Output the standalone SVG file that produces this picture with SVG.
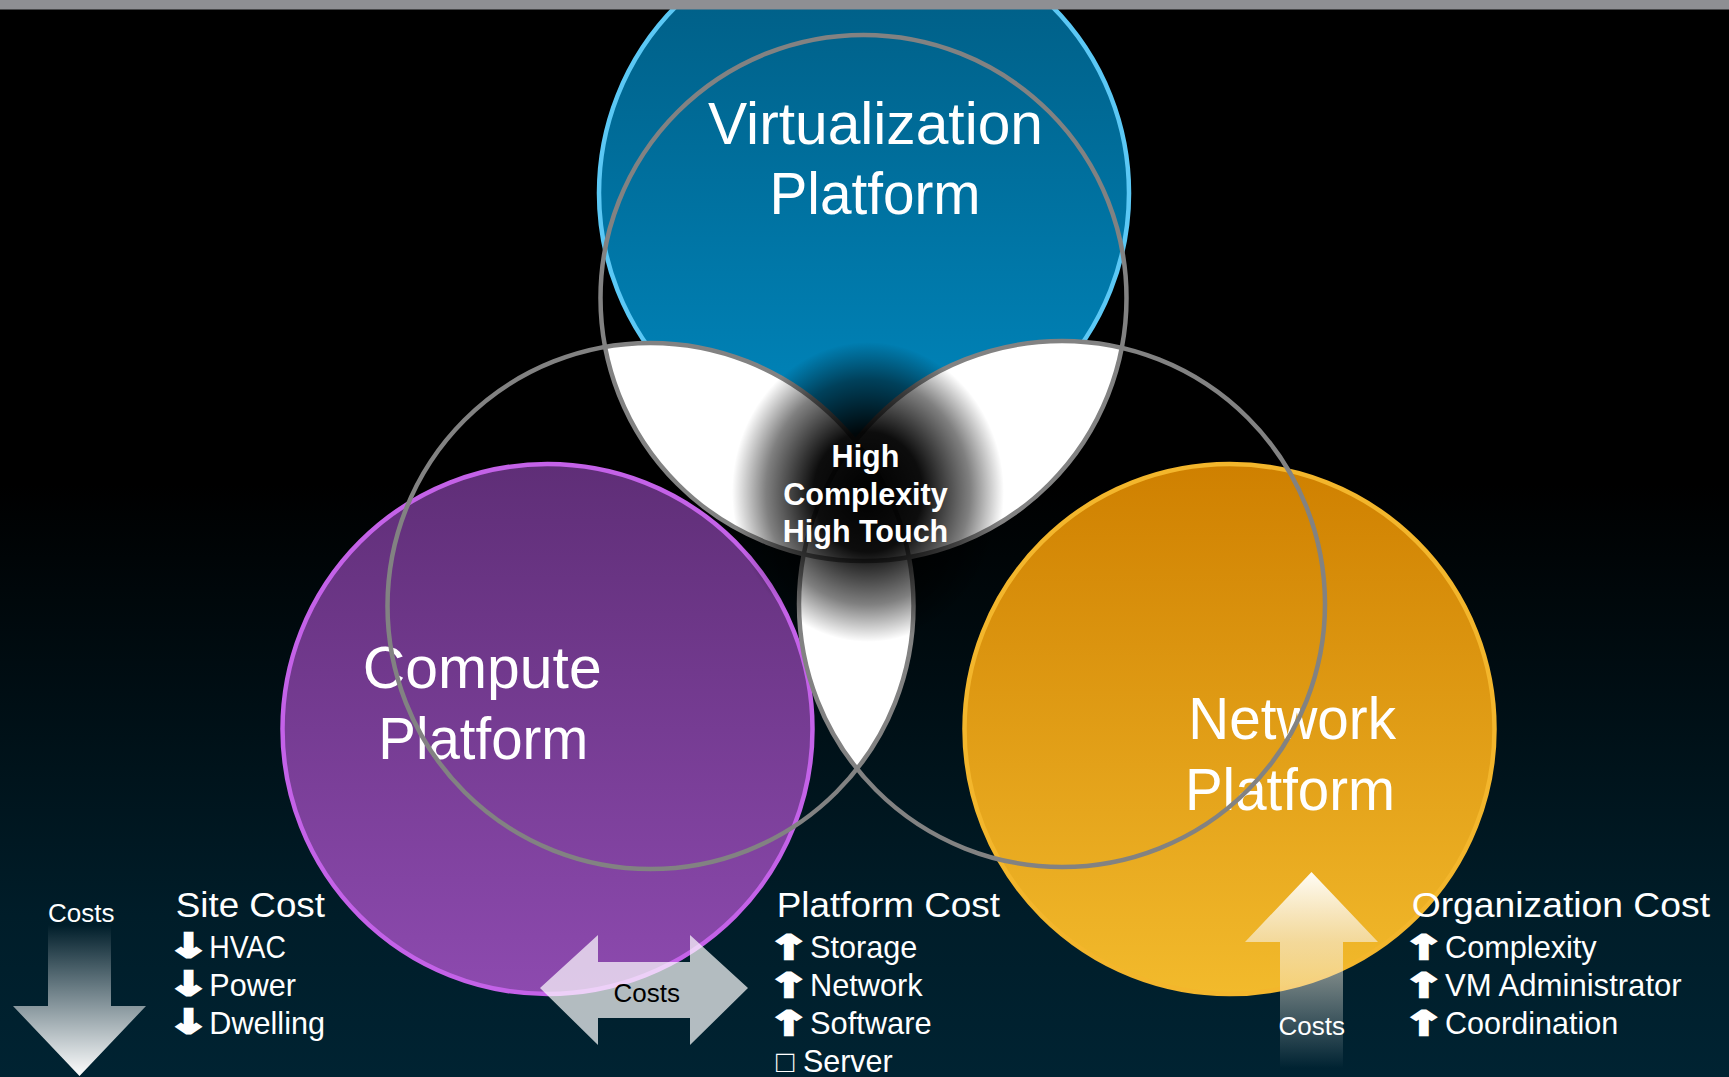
<svg xmlns="http://www.w3.org/2000/svg" width="1729" height="1077" viewBox="0 0 1729 1077">
  <defs>
    <linearGradient id="bg" x1="0" y1="0" x2="0" y2="1077" gradientUnits="userSpaceOnUse">
      <stop offset="0" stop-color="#000000"/>
      <stop offset="0.45" stop-color="#000000"/>
      <stop offset="0.85" stop-color="#001d29"/>
      <stop offset="1" stop-color="#002332"/>
    </linearGradient>
    <linearGradient id="gBlue" x1="0" y1="0" x2="0" y2="1">
      <stop offset="0" stop-color="#005a80"/>
      <stop offset="1" stop-color="#0088bf"/>
    </linearGradient>
    <linearGradient id="gPurple" x1="0" y1="0" x2="0" y2="1">
      <stop offset="0" stop-color="#5f2e77"/>
      <stop offset="1" stop-color="#8d4aaf"/>
    </linearGradient>
    <linearGradient id="gOrange" x1="0" y1="0" x2="0" y2="1">
      <stop offset="0" stop-color="#cf8000"/>
      <stop offset="1" stop-color="#f2ba2c"/>
    </linearGradient>
    <radialGradient id="gCenter" cx="0.5" cy="0.5" r="0.5">
      <stop offset="0" stop-color="#000" stop-opacity="1"/>
      <stop offset="0.4" stop-color="#000" stop-opacity="0.95"/>
      <stop offset="0.75" stop-color="#000" stop-opacity="0.5"/>
      <stop offset="1" stop-color="#000" stop-opacity="0"/>
    </radialGradient>
    <linearGradient id="gDown" x1="0" y1="925" x2="0" y2="1077" gradientUnits="userSpaceOnUse">
      <stop offset="0" stop-color="#ffffff" stop-opacity="0"/>
      <stop offset="1" stop-color="#ffffff" stop-opacity="1"/>
    </linearGradient>
    <linearGradient id="gUp" x1="0" y1="872" x2="0" y2="1068" gradientUnits="userSpaceOnUse">
      <stop offset="0" stop-color="#fffdf6" stop-opacity="1"/>
      <stop offset="0.36" stop-color="#f6ecd6" stop-opacity="0.65"/>
      <stop offset="1" stop-color="#ffffff" stop-opacity="0"/>
    </linearGradient>
    <clipPath id="cT"><circle cx="863.5" cy="298" r="263"/></clipPath>
    <clipPath id="cL"><circle cx="650.5" cy="606" r="263"/></clipPath>
    <clipPath id="cR"><circle cx="1062" cy="604" r="263"/></clipPath>
  </defs>
  <style>
    .big { font-family: "Liberation Sans", Arial, sans-serif; font-size: 59px; fill: #ffffff; }
    .hdr { font-family: "Liberation Sans", Arial, sans-serif; font-size: 35px; fill: #ffffff; }
    .item { font-family: "Liberation Sans", Arial, sans-serif; font-size: 30.5px; fill: #ffffff; }
    .arr { font-family: "DejaVu Sans", sans-serif; font-weight: bold; font-size: 33px; fill: #ffffff; stroke: #ffffff; stroke-width: 2.6; stroke-linejoin: miter; }
    .ctr { font-family: "Liberation Sans", Arial, sans-serif; font-weight: bold; font-size: 30.5px; fill: #ffffff; text-anchor: middle; }
    .costs { font-family: "Liberation Sans", Arial, sans-serif; font-size: 26px; text-anchor: middle; }
    .ring { fill: none; stroke: #828282; stroke-width: 4.5; }
    .lens { fill: #ffffff; }
  </style>

  <rect x="0" y="0" width="1729" height="1077" fill="url(#bg)"/>

  <g id="virtualization-platform">
    <circle cx="864" cy="193" r="265" fill="url(#gBlue)" stroke="#5bc8f5" stroke-width="4.5"/>
  </g>
  <g id="compute-platform">
    <circle cx="547.5" cy="729" r="265" fill="url(#gPurple)" stroke="#c462e8" stroke-width="4.5"/>
  </g>
  <g id="network-platform">
    <circle cx="1229.5" cy="729" r="265" fill="url(#gOrange)" stroke="#f3b62c" stroke-width="4.5"/>
  </g>

  <g id="overlap-lenses">
    <g clip-path="url(#cL)"><circle class="lens" cx="863.5" cy="298" r="263"/></g>
    <g clip-path="url(#cR)"><circle class="lens" cx="863.5" cy="298" r="263"/></g>
    <g clip-path="url(#cR)"><circle class="lens" cx="650.5" cy="606" r="263"/></g>
  </g>

  <g id="platform-labels">
    <text class="big" x="708" y="144" textLength="335" lengthAdjust="spacingAndGlyphs">Virtualization</text>
    <text class="big" x="769.5" y="213.5" textLength="211" lengthAdjust="spacingAndGlyphs">Platform</text>
    <text class="big" x="362.7" y="687.5" textLength="239" lengthAdjust="spacingAndGlyphs">Compute</text>
    <text class="big" x="378.3" y="758.5" textLength="210" lengthAdjust="spacingAndGlyphs">Platform</text>
    <text class="big" x="1188.3" y="738.5" textLength="207.7" lengthAdjust="spacingAndGlyphs">Network</text>
    <text class="big" x="1185" y="809.5" textLength="210" lengthAdjust="spacingAndGlyphs">Platform</text>
  </g>

  <g id="outline-rings">
    <circle class="ring" cx="863.5" cy="298" r="263"/>
    <circle class="ring" cx="650.5" cy="606" r="263"/>
    <circle class="ring" cx="1062" cy="604" r="263"/>
  </g>

  <g id="high-complexity">
    <ellipse cx="868" cy="492" rx="136" ry="150" fill="url(#gCenter)"/>
    <text class="ctr" x="865.5" y="467.3">High</text>
    <text class="ctr" x="865.5" y="505">Complexity</text>
    <text class="ctr" x="865.5" y="542.3">High Touch</text>
  </g>

  <rect id="top-band" x="0" y="0" width="1729" height="9.5" fill="#8e8f93"/>

  <g id="arrows">
    <polygon points="48,925 111,925 111,1006 146,1006 79.5,1076 13,1006 48,1006" fill="url(#gDown)"/>
    <polygon points="540,988 598,935 598,962 690,962 690,935 748,988 690,1045 690,1018 598,1018 598,1045" fill="#ffffff" fill-opacity="0.7"/>
    <polygon points="1311.5,872 1378,942 1343,942 1343,1068 1280,1068 1280,942 1245,942" fill="url(#gUp)"/>
  </g>

  <g id="site-cost">
    <text class="costs" x="81.2" y="922.3" fill="#ffffff">Costs</text>
    <text class="hdr" x="175.7" y="916.7" textLength="149.3" lengthAdjust="spacingAndGlyphs">Site Cost</text>
    <text class="arr" transform="translate(167.8,957) scale(1.5,1)">↓</text>
    <text class="item" x="209.3" y="958.3" textLength="76.7" lengthAdjust="spacingAndGlyphs">HVAC</text>
    <text class="arr" transform="translate(167.8,995) scale(1.5,1)">↓</text>
    <text class="item" x="209.3" y="996" textLength="86.7" lengthAdjust="spacingAndGlyphs">Power</text>
    <text class="arr" transform="translate(167.8,1033) scale(1.5,1)">↓</text>
    <text class="item" x="209.3" y="1034" textLength="115.7" lengthAdjust="spacingAndGlyphs">Dwelling</text>
  </g>

  <g id="platform-cost">
    <text class="costs" x="646.7" y="1001.7" fill="#000000">Costs</text>
    <text class="hdr" x="776.7" y="916.7" textLength="223.3" lengthAdjust="spacingAndGlyphs">Platform Cost</text>
    <text class="arr" transform="translate(768,959) scale(1.5,1)">↑</text>
    <text class="item" x="810" y="958.3" textLength="107.3" lengthAdjust="spacingAndGlyphs">Storage</text>
    <text class="arr" transform="translate(768,997) scale(1.5,1)">↑</text>
    <text class="item" x="810" y="996" textLength="112.7" lengthAdjust="spacingAndGlyphs">Network</text>
    <text class="arr" transform="translate(768,1035) scale(1.5,1)">↑</text>
    <text class="item" x="810" y="1034" textLength="121.7" lengthAdjust="spacingAndGlyphs">Software</text>
    <text class="item" x="776" y="1071.7">□ Server</text>
  </g>

  <g id="organization-cost">
    <text class="costs" x="1311.7" y="1035" fill="#ffffff">Costs</text>
    <text class="hdr" x="1411.7" y="917.3" textLength="298.3" lengthAdjust="spacingAndGlyphs">Organization Cost</text>
    <text class="arr" transform="translate(1403,959) scale(1.5,1)">↑</text>
    <text class="item" x="1445" y="958.3" textLength="151.7" lengthAdjust="spacingAndGlyphs">Complexity</text>
    <text class="arr" transform="translate(1403,997) scale(1.5,1)">↑</text>
    <text class="item" x="1445" y="996" textLength="236.7" lengthAdjust="spacingAndGlyphs">VM Administrator</text>
    <text class="arr" transform="translate(1403,1035) scale(1.5,1)">↑</text>
    <text class="item" x="1445" y="1034" textLength="173.3" lengthAdjust="spacingAndGlyphs">Coordination</text>
  </g>
</svg>
